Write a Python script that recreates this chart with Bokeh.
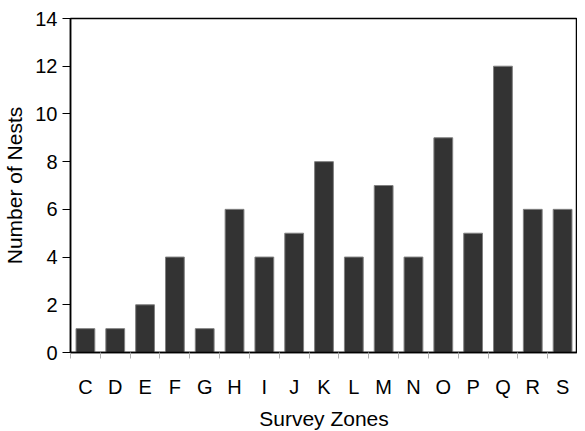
from bokeh.plotting import figure
from bokeh.models import FixedTicker, Range1d
from bokeh.embed import file_html
from bokeh.resources import INLINE

zones = ["C", "D", "E", "F", "G", "H", "I", "J", "K", "L", "M", "N", "O", "P", "Q", "R", "S"]
nests = [1, 1, 2, 4, 1, 6, 4, 5, 8, 4, 7, 4, 9, 5, 12, 6, 6]
y_ticks = [0, 2, 4, 6, 8, 10, 12, 14]

xpos = [i + 0.5 for i in range(len(zones))]

p = figure(width=577, height=432, output_backend="svg", toolbar_location=None,
           x_range=Range1d(0, len(zones)), y_range=Range1d(0, 14),
           min_border_left=61, min_border_top=18, min_border_right=0, min_border_bottom=0)

p.vbar(x=xpos, top=nests, width=0.63, fill_color="#333333", line_color="#808080", line_width=1)

p.xgrid.visible = False
p.ygrid.visible = False
p.outline_line_color = "#000000"
p.outline_line_width = 1.5

font = "Liberation Sans"

xt = FixedTicker(ticks=xpos, minor_ticks=list(range(len(zones) + 1)))
p.xaxis.ticker = xt
p.xaxis.major_label_overrides = {x: z for x, z in zip(xpos, zones)}
p.xaxis.major_tick_out = 0
p.xaxis.major_tick_in = 0
p.xaxis.minor_tick_out = 6
p.xaxis.minor_tick_in = 0
p.xaxis.minor_tick_line_color = "#b0b0b0"
p.xaxis.axis_line_color = "#000000"
p.xaxis.axis_line_width = 1.5
p.xaxis.major_label_standoff = 17
p.xaxis.axis_label = "Survey Zones"
p.xaxis.axis_label_standoff = 6

p.yaxis.ticker = FixedTicker(ticks=y_ticks)
p.yaxis.minor_tick_line_color = None
p.yaxis.major_tick_out = 8
p.yaxis.major_tick_in = 0
p.yaxis.major_tick_line_color = "#000000"
p.yaxis.axis_line_color = "#000000"
p.yaxis.axis_line_width = 1.5
p.yaxis.major_label_standoff = 5
p.yaxis.axis_label = "Number of Nests"
p.yaxis.axis_label_standoff = 6

for ax in (p.xaxis, p.yaxis):
    ax.major_label_text_font = font
    ax.major_label_text_font_size = "20px"
    ax.major_label_text_color = "#000000"
    ax.axis_label_text_font = font
    ax.axis_label_text_font_size = "21px"
    ax.axis_label_text_font_style = "normal"
    ax.axis_label_text_color = "#000000"

open("out.html", "w").write(file_html(p, INLINE))
